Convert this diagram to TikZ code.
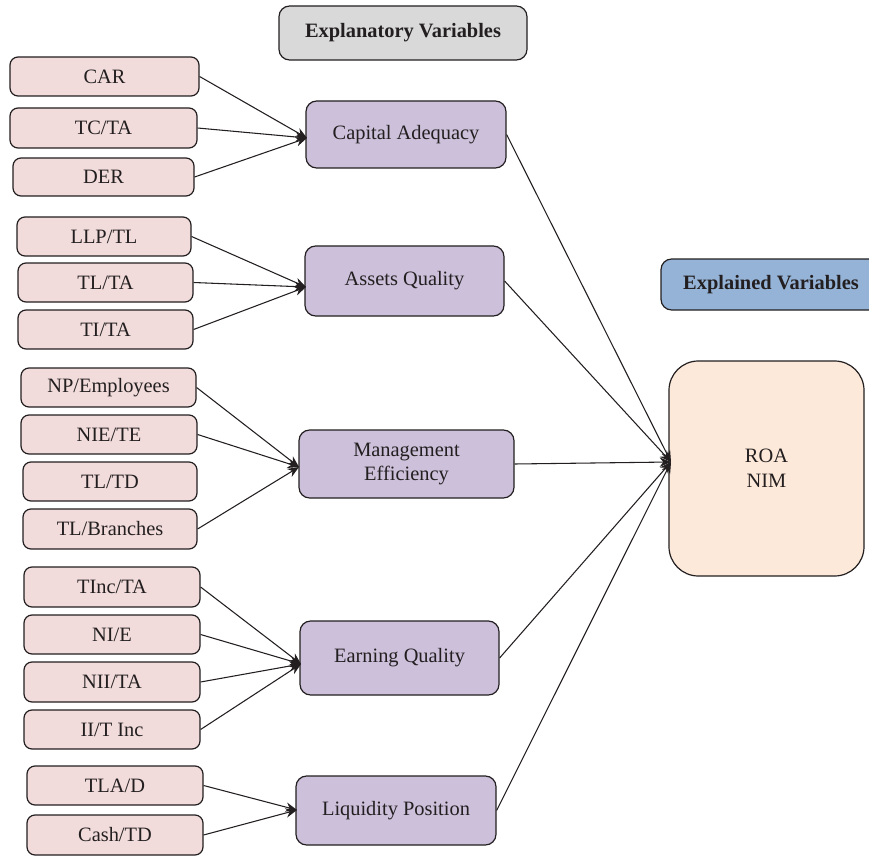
\documentclass[tikz,border=0pt]{standalone}
\usepackage{fontspec}
\setmainfont{Liberation Serif}
\usetikzlibrary{arrows.meta}
\definecolor{pinkc}{HTML}{F2DCDB}
\definecolor{purpc}{HTML}{CCC0DA}
\definecolor{greyc}{HTML}{D9D9D9}
\definecolor{bluec}{HTML}{95B3D7}
\definecolor{peachc}{HTML}{FDE9D9}
\definecolor{inkc}{HTML}{231F20}
\newcommand\BX[7]{%
  \pgfmathsetmacro\BXw{(#5-#3)*0.75}%
  \pgfmathsetmacro\BXh{(#6-#4)*0.75}%
  \node[#1, minimum width=\BXw pt, minimum height=\BXh pt] (#2) at ({(#3+#5)/2},{(#4+#6)/2}) {#7};}
\begin{document}
\begin{tikzpicture}[x=0.75pt,y=-0.75pt,
  base/.style={draw=inkc, line width=0.9pt, rounded corners=6pt, inner sep=0pt, text=inkc,
    font=\fontsize{15.3}{17}\selectfont, align=center},
  pinkbox/.style={base, fill=pinkc},
  catbox/.style={base, fill=purpc, rounded corners=8pt},
  headbox/.style={base, rounded corners=8pt, font=\fontsize{15.3}{17}\selectfont\bfseries},
  conn/.style={draw=inkc, line width=0.8pt, -{Stealth[length=8.5pt,width=7pt]}}]
\useasboundingbox (0,0) rectangle (869,856);

\BX{headbox, fill=greyc}{hexp}{279}{6}{527}{60}{Explanatory Variables}
\BX{headbox, fill=bluec}{hexd}{661}{259}{881}{310}{Explained Variables}

% left variable boxes
\BX{pinkbox}{car}{10}{57}{199}{96}{CAR}
\BX{pinkbox}{tcta}{10}{108}{197}{148}{TC/TA}
\BX{pinkbox}{der}{13}{158}{194}{196}{DER}

\BX{pinkbox}{llptl}{17}{217}{191}{256}{LLP/TL}
\BX{pinkbox}{tlta}{18}{263}{193}{302}{TL/TA}
\BX{pinkbox}{tita}{18}{310}{193}{349}{TI/TA}

\BX{pinkbox}{npemp}{21}{368}{196}{407}{NP/Employees}
\BX{pinkbox}{niete}{21}{415}{197}{454}{NIE/TE}
\BX{pinkbox}{tltd}{23}{462}{197}{501}{TL/TD}
\BX{pinkbox}{tlbr}{23}{509}{197}{549}{TL/Branches}

\BX{pinkbox}{tincta}{24}{567}{200}{607}{TInc/TA}
\BX{pinkbox}{nie}{24}{615}{200}{654}{NI/E}
\BX{pinkbox}{niita}{24}{662}{200}{702}{NII/TA}
\BX{pinkbox}{iitinc}{24}{710}{200}{749}{II/T Inc}

\BX{pinkbox}{tlad}{27}{766}{203}{805}{TLA/D}
\BX{pinkbox}{cashtd}{27}{815}{203}{855}{Cash/TD}

% category boxes
\BX{catbox}{cap}{306}{101}{506}{168}{Capital Adequacy}
\BX{catbox}{asq}{305}{246}{504}{316}{Assets Quality}
\BX{catbox}{mgmt}{299}{430}{514}{498}{Management\\[1.5pt]Efficiency}
\BX{catbox}{earn}{300}{621}{499}{695}{Earning Quality}
\BX{catbox}{liq}{296}{776}{496}{845}{Liquidity Position}

% explained box
\BX{base, fill=peachc, rounded corners=22pt}{roa}{669}{361}{864}{576}{ROA\\[1.5pt]NIM}

% arrow targets
\coordinate (capin) at (307,138);
\coordinate (asqin) at (306,287);
\coordinate (mgmtin) at (299,467);
\coordinate (earnin) at (301,664);
\coordinate (liqin) at (297,810);
\coordinate (roain) at (671,462);

\draw[conn] (car.east) -- (capin);
\draw[conn] (tcta.east) -- (capin);
\draw[conn] (der.east) -- (capin);

\draw[conn] (llptl.east) -- (asqin);
\draw[conn] (tlta.east) -- (asqin);
\draw[conn] (tita.east) -- (asqin);

\draw[conn] (npemp.east) -- (mgmtin);
\draw[conn] (niete.east) -- (mgmtin);
\draw[conn] (tlbr.east) -- (mgmtin);

\draw[conn] (tincta.east) -- (earnin);
\draw[conn] (nie.east) -- (earnin);
\draw[conn] (niita.east) -- (earnin);
\draw[conn] (iitinc.east) -- (earnin);

\draw[conn] (tlad.east) -- (liqin);
\draw[conn] (cashtd.east) -- (liqin);

\draw[conn] (cap.east) -- (roain);
\draw[conn] (asq.east) -- (roain);
\draw[conn] (mgmt.east) -- (roain);
\draw[conn] (earn.east) -- (roain);
\draw[conn] (liq.east) -- (roain);
\end{tikzpicture}
\end{document}
